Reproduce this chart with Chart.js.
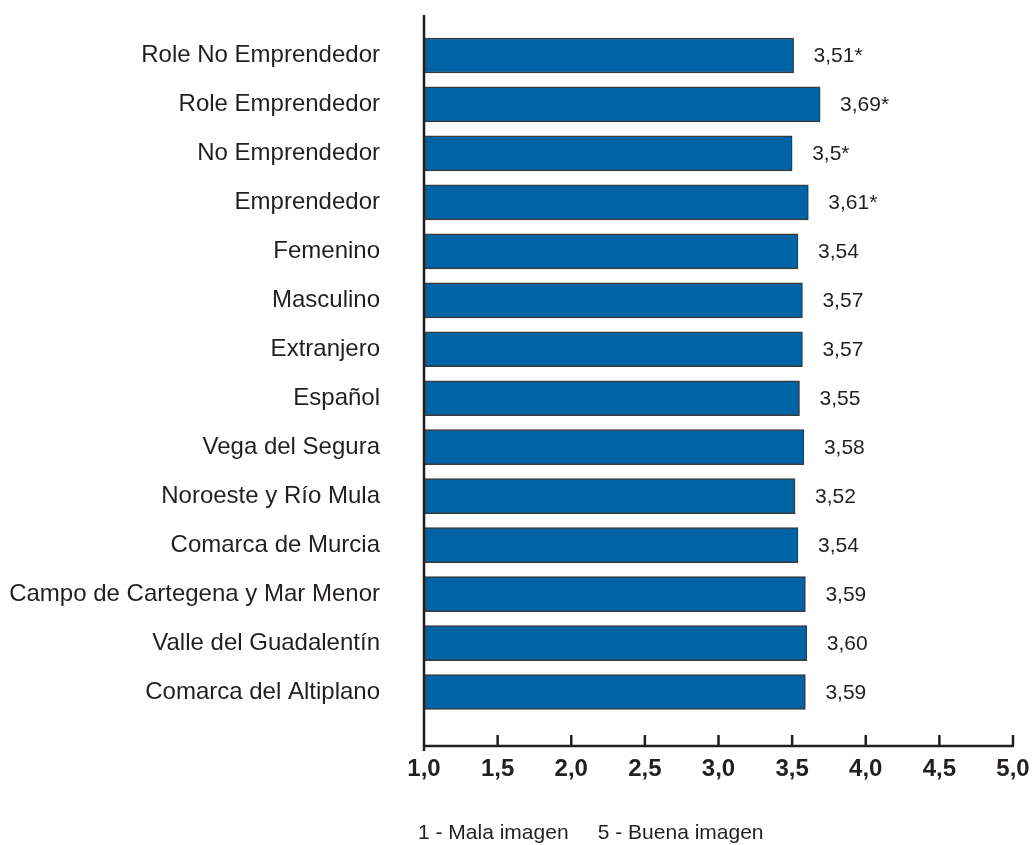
<!DOCTYPE html>
<html>
<head>
<meta charset="utf-8">
<title>Imagen del emprendedor</title>
<script src="https://cdn.jsdelivr.net/npm/chart.js@4/dist/chart.umd.min.js"></script>
<style>
  html, body { margin: 0; padding: 0; background: #fff; }
  #wrap { position: relative; width: 1035px; height: 845px; }
  .nota {
    position: absolute; left: 418px; top: 820px;
    font: 21px 'Liberation Sans', Arial, sans-serif; color: #231f20;
    white-space: pre;
  }
</style>
</head>
<body>
<div id="wrap">
  <canvas id="grafico" width="1035" height="845"></canvas>
  <div class="nota">1 - Mala imagen     5 - Buena imagen</div>
</div>
<script>
(function() {
    'use strict';

    var categorias = [
        'Role No Emprendedor',
        'Role Emprendedor',
        'No Emprendedor',
        'Emprendedor',
        'Femenino',
        'Masculino',
        'Extranjero',
        'Español',
        'Vega del Segura',
        'Noroeste y Río Mula',
        'Comarca de Murcia',
        'Campo de Cartegena y Mar Menor',
        'Valle del Guadalentín',
        'Comarca del Altiplano'
    ];
    var valores = [3.51, 3.69, 3.5, 3.61, 3.54, 3.57, 3.57, 3.55, 3.58, 3.52, 3.54, 3.59, 3.60, 3.59];
    var etiquetas = ['3,51*', '3,69*', '3,5*', '3,61*', '3,54', '3,57', '3,57', '3,55', '3,58', '3,52', '3,54', '3,59', '3,60', '3,59'];

    var TINTA = '#231f20';

    // axis lines drawn by hand: they run past the plot area like the printed figure
    var ejes = {
        id: 'ejes',
        afterDraw: function(chart) {
            var ctx = chart.ctx;
            var area = chart.chartArea;
            var x = chart.scales.x;
            var yEje = area.bottom + 29.5;
            ctx.save();
            ctx.strokeStyle = TINTA;
            ctx.lineWidth = 2.5;
            ctx.beginPath();
            ctx.moveTo(area.left, area.top - 16);
            ctx.lineTo(area.left, area.bottom + 34.5);
            ctx.moveTo(area.left, yEje);
            ctx.lineTo(area.right + 1, yEje);
            x.ticks.forEach(function(t) {
                var px = x.getPixelForValue(t.value);
                ctx.moveTo(px, yEje - 11);
                ctx.lineTo(px, yEje);
            });
            ctx.stroke();
            ctx.restore();
        }
    };

    // value written to the right of each bar
    var valoresBarra = {
        id: 'valoresBarra',
        afterDatasetsDraw: function(chart) {
            var ctx = chart.ctx;
            var meta = chart.getDatasetMeta(0);
            ctx.save();
            ctx.font = '21px "Liberation Sans", Arial, sans-serif';
            ctx.fillStyle = TINTA;
            ctx.textAlign = 'left';
            ctx.textBaseline = 'middle';
            meta.data.forEach(function(bar, i) {
                ctx.fillText(etiquetas[i], bar.x + 20, bar.y + 1);
            });
            ctx.restore();
        }
    };

    new Chart(document.getElementById('grafico'), {
        type: 'bar',
        data: {
            labels: categorias,
            datasets: [{
                data: valores,
                backgroundColor: '#0063a6',
                borderColor: '#3a3a3a',
                borderWidth: 1.5,
                borderSkipped: false,
                barThickness: 35
            }]
        },
        options: {
            indexAxis: 'y',
            responsive: false,
            animation: false,
            devicePixelRatio: 1,
            layout: { padding: { top: 31, right: 22, left: 0, bottom: 0 } },
            plugins: {
                legend: { display: false },
                tooltip: { enabled: false }
            },
            scales: {
                x: {
                    min: 1,
                    max: 5,
                    grid: { display: false, drawTicks: false },
                    border: { display: false },
                    ticks: {
                        stepSize: 0.5,
                        autoSkip: false,
                        maxRotation: 0,
                        padding: 38,
                        color: TINTA,
                        font: { family: '"Liberation Sans", Arial, sans-serif', size: 24, weight: 'bold' },
                        callback: function(v) { return Number(v).toFixed(1).replace('.', ','); }
                    },
                    afterFit: function(scale) {
                        scale.height = 128.5;
                        scale.paddingLeft = 0;
                        scale.paddingRight = 0;
                    }
                },
                y: {
                    grid: { display: false, drawTicks: false },
                    border: { display: false },
                    ticks: {
                        padding: 44,
                        color: TINTA,
                        font: { family: '"Liberation Sans", Arial, sans-serif', size: 24 }
                    },
                    afterFit: function(scale) {
                        scale.width = 424;
                        scale.paddingTop = 0;
                        scale.paddingBottom = 0;
                    }
                }
            }
        },
        plugins: [ejes, valoresBarra]
    });
})();
</script>
</body>
</html>
